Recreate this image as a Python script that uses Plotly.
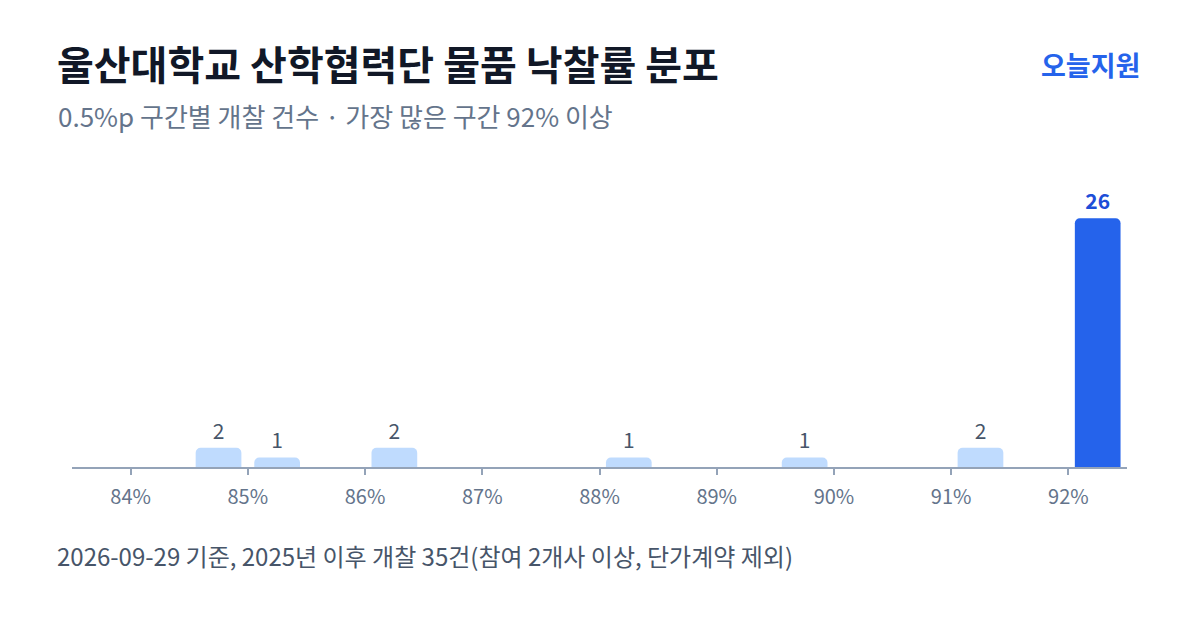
import plotly.graph_objects as go

# 0.5%p bins (lower edge, %) and bid counts
bin_lower = [84.5, 85.0, 86.0, 88.0, 89.5, 91.0, 92.0]
counts = [2, 1, 2, 1, 1, 2, 26]
highlight = [False, False, False, False, False, False, True]

tick_vals = [84, 85, 86, 87, 88, 89, 90, 91, 92]
tick_text = ["84%", "85%", "86%", "87%", "88%", "89%", "90%", "91%", "92%"]

TITLE = "울산대학교 산학협력단 물품 낙찰률 분포"
SUBTITLE = "0.5%p 구간별 개찰 건수 · 가장 많은 구간 92% 이상"
FOOTER = "2026-09-29 기준, 2025년 이후 개찰 35건(참여 2개사 이상, 단가계약 제외)"
BRAND = "오늘지원"

FONT = "Noto Sans CJK KR"
BLUE = "#2563eb"
LIGHT = "#bfdbfe"

W, H = 1200, 630
# the page body adds an 8px margin, so pull everything back by that much
OFF = 8
L, R, T, B = 72 - OFF, 73 + OFF, 180 - OFF, 163 + OFF
plot_w = W - L - R
plot_h = H - T - B


def px_x(x):
    return (x - OFF - L) / plot_w


def px_y(y):
    return (H - B - (y - OFF)) / plot_h


colors = [BLUE if h else LIGHT for h in highlight]
labels = [f"<b>{c}</b>" if h else str(c) for c, h in zip(counts, highlight)]
label_colors = ["#1d4ed8" if h else "#475569" for h in highlight]

fig = go.Figure()
fig.add_bar(
    x=bin_lower,
    y=counts,
    width=0.39,
    offset=0.055,
    marker=dict(color=colors, cornerradius=5, line=dict(width=0)),
    text=labels,
    textposition="outside",
    textfont=dict(family=FONT, size=21, color=label_colors),
    cliponaxis=False,
    hoverinfo="skip",
)

fig.update_layout(
    width=W,
    height=H,
    margin=dict(l=L, r=R, t=T, b=B),
    paper_bgcolor="white",
    plot_bgcolor="white",
    showlegend=False,
    font=dict(family=FONT, color="#64748b"),
    title=dict(
        text=f"<b>{TITLE}</b>",
        x=(57 - OFF) / W,
        xanchor="left",
        y=1 - (66 - OFF) / H,
        yanchor="middle",
        font=dict(family=FONT, size=40, color="#111827"),
    ),
    xaxis=dict(
        range=[83.5, 92.5],
        tickvals=tick_vals,
        ticktext=tick_text,
        ticks="outside",
        ticklen=6,
        tickwidth=2,
        tickcolor="#94a3b8",
        ticklabelstandoff=5,
        showline=True,
        linecolor="#94a3b8",
        linewidth=2,
        showgrid=False,
        zeroline=False,
        tickfont=dict(family=FONT, size=20, color="#64748b"),
        fixedrange=True,
    ),
    yaxis=dict(
        range=[0, 30],
        visible=False,
        showgrid=False,
        zeroline=False,
        fixedrange=True,
    ),
    annotations=[
        dict(
            text=SUBTITLE,
            xref="paper", yref="paper",
            x=px_x(56), y=px_y(115),
            xanchor="left", yanchor="middle",
            showarrow=False,
            font=dict(family=FONT, size=26, color="#64748b"),
        ),
        dict(
            text=f"<b>{BRAND}</b>",
            xref="paper", yref="paper",
            x=px_x(1142), y=px_y(64),
            xanchor="right", yanchor="middle",
            showarrow=False,
            font=dict(family=FONT, size=27, color=BLUE),
        ),
        dict(
            text=FOOTER,
            xref="paper", yref="paper",
            x=px_x(55), y=px_y(555),
            xanchor="left", yanchor="middle",
            showarrow=False,
            font=dict(family=FONT, size=24, color="#475569"),
        ),
    ],
)

fig.write_html("out.html")
